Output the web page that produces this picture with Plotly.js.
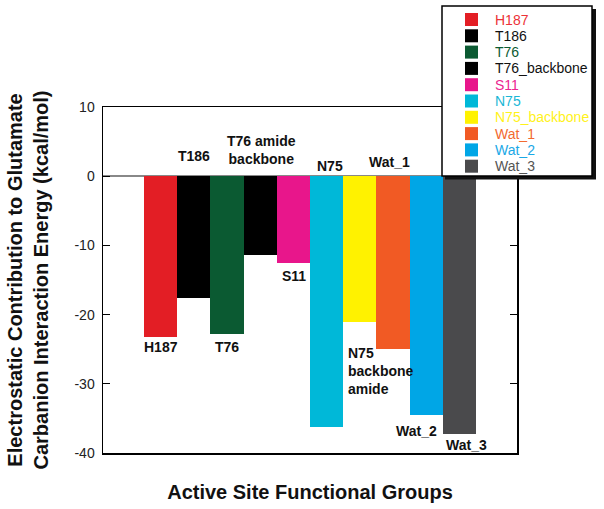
<!DOCTYPE html>
<html>
<head>
<meta charset="utf-8">
<script src="https://cdn.plot.ly/plotly-3.0.1.min.js"></script>
<style>html,body{margin:0;padding:0;background:#fff;}#chart{width:604px;height:509px;}</style>
</head>
<body>
<div id="chart"></div>
<script>
// ---- data ----
var groups = ['H187', 'T186', 'T76', 'T76_backbone', 'S11', 'N75', 'N75_backbone', 'Wat_1', 'Wat_2', 'Wat_3'];
var energies = [-23.3, -17.6, -22.8, -11.4, -12.6, -36.2, -21.1, -24.9, -34.5, -37.3];
var barColors = ['#e31e25', '#000000', '#0b5a32', '#000000', '#e8168b', '#00b8d8', '#fff200', '#f15a24', '#00a6e6', '#4a4a4c'];
var legendTextColors = ['#ec3237', '#111111', '#0b5a32', '#111111', '#ec2590', '#1ab7d6', '#fff21a', '#f26a30', '#1aa8e6', '#555555'];
var barLabels = ['H187', 'T186', 'T76', 'T76 amide<br>backbone', 'S11', 'N75', 'N75<br>backbone<br>amide', 'Wat_1', 'Wat_2', 'Wat_3'];
var yTicks = [-40, -30, -20, -10, 0, 10];

// ---- layout geometry ----
var W = 604, H = 509;
var M = {l: 103, r: 87, t: 107, b: 56};
var pw = W - M.l - M.r, ph = H - M.t - M.b;
function px2x(px) { return (px - M.l) / pw; }
function py2y(py) { return (H - M.b - py) / ph; }

var FONT = 'Arial, "Liberation Sans", sans-serif';

var traces = groups.map(function (g, i) {
  return {
    type: 'bar', x: [i], y: [energies[i]], name: g,
    marker: {color: barColors[i], line: {width: 0}},
    width: 1, showlegend: false, hoverinfo: 'x+y'
  };
});

// label placement: side relative to bar, pixel offsets
var labelStyle = [
  {side: 'end', dx: 0, dy: -10, align: 'center'},
  {side: 'zero', dx: 0, dy: 20, align: 'center'},
  {side: 'end', dx: 0, dy: -13, align: 'center'},
  {side: 'zero', dx: 1, dy: 26, align: 'center'},
  {side: 'end', dx: 1, dy: -13, align: 'center'},
  {side: 'zero', dx: 3, dy: 10, align: 'center'},
  {side: 'end', dx: 3, dy: -49, align: 'left'},
  {side: 'zero', dx: -3.5, dy: 14, align: 'center'},
  {side: 'end', dx: -9.5, dy: -16.5, align: 'center'},
  {side: 'end', dx: 7.5, dy: -11, align: 'center'}
];

var annotations = [];
groups.forEach(function (g, i) {
  var s = labelStyle[i];
  annotations.push({
    xref: 'x', yref: 'y',
    x: s.align === 'left' ? i - 0.5 : i,
    y: s.side === 'end' ? energies[i] : 0,
    xanchor: s.align === 'left' ? 'left' : 'center',
    yanchor: 'middle', align: s.align,
    xshift: s.dx, yshift: s.dy,
    text: '<b>' + barLabels[i] + '</b>', showarrow: false,
    font: {family: FONT, size: 14, color: '#111'}
  });
});

// legend box (drawn manually to match the original compact key)
var shapes = [];
var LB = {x0: 442, y0: 6, x1: 592, y1: 176};
shapes.push({type: 'rect', xref: 'paper', yref: 'paper', layer: 'above',
  x0: px2x(LB.x0 + 3), x1: px2x(LB.x1 + 4), y0: py2y(LB.y1 + 3.5), y1: py2y(LB.y0 + 3),
  fillcolor: '#111', line: {width: 0}});
shapes.push({type: 'rect', xref: 'paper', yref: 'paper', layer: 'above',
  x0: px2x(LB.x0), x1: px2x(LB.x1), y0: py2y(LB.y1), y1: py2y(LB.y0),
  fillcolor: '#ffffff', line: {color: '#000', width: 1.5}});
groups.forEach(function (g, i) {
  var cy = 19.5 + i * 16.3;
  shapes.push({type: 'rect', xref: 'paper', yref: 'paper', layer: 'above',
    x0: px2x(465), x1: px2x(478), y0: py2y(cy + 6.5), y1: py2y(cy - 6.5),
    fillcolor: barColors[i], line: {width: 0}});
  annotations.push({xref: 'paper', yref: 'paper', x: px2x(493), y: py2y(cy),
    xanchor: 'left', yanchor: 'middle', showarrow: false, text: g,
    font: {family: FONT, size: 14, color: legendTextColors[i]}});
});

var layout = {
  width: W, height: H,
  margin: M,
  paper_bgcolor: '#fff', plot_bgcolor: '#fff',
  font: {family: FONT, size: 14, color: '#222'},
  showlegend: false,
  bargap: 0,
  xaxis: {
    range: [-1.735, 10.735], showticklabels: false, ticks: '',
    showgrid: false, zeroline: false,
    showline: true, mirror: true, linecolor: '#000', linewidth: 1.5,
    title: {text: '<b>Active Site Functional Groups</b>', font: {family: FONT, size: 20, color: '#111'}, standoff: 31}
  },
  yaxis: {
    range: [-40, 10], tickvals: yTicks, ticktext: yTicks.map(String),
    ticks: 'inside', ticklen: 7, tickwidth: 1, tickcolor: '#000',
    showgrid: false, zeroline: true, zerolinecolor: '#888', zerolinewidth: 1.5,
    showline: true, mirror: 'ticks', linecolor: '#000', linewidth: 1.5,
    ticklabelstandoff: 4,
    tickfont: {family: FONT, size: 14, color: '#222'},
    title: {text: '<b>Electrostatic Contribution to Glutamate<br>Carbanion Interaction Energy (kcal/mol)</b>',
      font: {family: FONT, size: 20, color: '#111'}, standoff: 20}
  },
  shapes: shapes,
  annotations: annotations
};

Plotly.newPlot('chart', traces, layout, {staticPlot: true, displayModeBar: false});
</script>
</body>
</html>
